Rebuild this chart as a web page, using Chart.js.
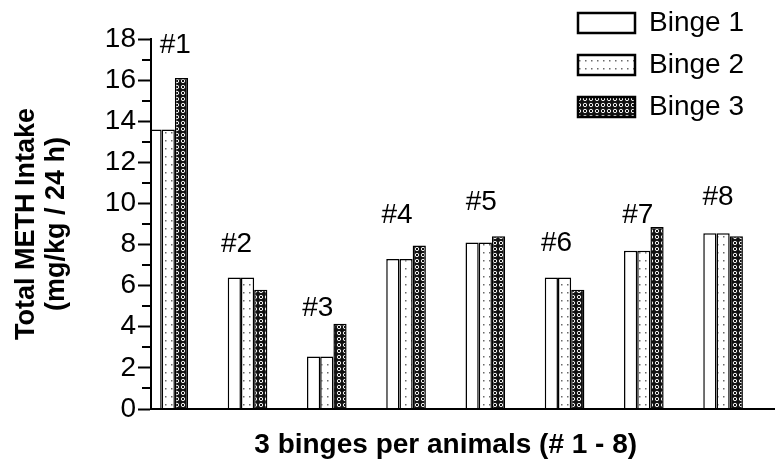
<!DOCTYPE html>
<html>
<head>
<meta charset="utf-8">
<script src="https://cdn.jsdelivr.net/npm/chart.js@4/dist/chart.umd.min.js"></script>
<style>
  html, body { margin: 0; padding: 0; background: #fff; }
  canvas { display: block; }
</style>
</head>
<body>
<canvas id="c" width="775" height="472"></canvas>
<script>
// ---- data ----
const animals = ['#1', '#2', '#3', '#4', '#5', '#6', '#7', '#8'];
const binge1 = [13.6, 6.4, 2.55, 7.3, 8.1, 6.4, 7.7, 8.55];
const binge2 = [13.6, 6.4, 2.55, 7.3, 8.1, 6.4, 7.7, 8.55];
const binge3 = [16.1, 5.8, 4.15, 7.95, 8.4, 5.8, 8.85, 8.4];
const seriesNames = ['Binge 1', 'Binge 2', 'Binge 3'];
const yTicks = [0, 2, 4, 6, 8, 10, 12, 14, 16, 18];
const yTitle = ['Total METH Intake', '(mg/kg / 24 h)'];
const xTitle = '3 binges per animals (# 1 - 8)';

// ---- styling ----
const FONT = '"Liberation Sans", Arial, Helvetica, sans-serif';
const INK = '#000';
// horizontal nudge and lift (px) of each animal tag above its tallest bar
const tagNudge = [7, -11, -9, -9, -4, -8, -6, -5];
const tagLift = [25, 25, 8, 23, 26, 26, 4, 28];

const canvas = document.getElementById('c');
const ctx0 = canvas.getContext('2d');

function makePattern(w, h, paint) {
  const t = document.createElement('canvas');
  t.width = w; t.height = h;
  paint(t.getContext('2d'), w, h);
  return ctx0.createPattern(t, 'repeat');
}
// white fill with sparse grey dots
const dotted = makePattern(6, 8, (g, w, h) => {
  g.fillStyle = '#fff'; g.fillRect(0, 0, w, h);
  g.fillStyle = '#6a6a6a'; g.fillRect(3, 4, 1.5, 1.5);
});
// dense dark fill with small white rings
const rings = makePattern(6, 6, (g, w, h) => {
  g.fillStyle = '#111'; g.fillRect(0, 0, w, h);
  g.strokeStyle = '#f4f4f4'; g.lineWidth = 1.0;
  g.beginPath(); g.arc(3, 3, 1.7, 0, Math.PI * 2); g.stroke();
});
const fills = ['#ffffff', dotted, rings];

const toPoints = arr => arr.map((v, i) => ({ x: i + 1, y: v }));

// short ticks at the odd values between labelled ticks
const minorTicks = {
  id: 'minorTicks',
  afterDraw(chart) {
    const { ctx, scales: { y }, chartArea } = chart;
    ctx.save();
    ctx.strokeStyle = INK; ctx.lineWidth = 2;
    for (let v = 1; v < 18; v += 2) {
      const py = Math.round(y.getPixelForValue(v));
      ctx.beginPath();
      ctx.moveTo(chartArea.left - 9, py);
      ctx.lineTo(chartArea.left, py);
      ctx.stroke();
    }
    ctx.restore();
  }
};

// "#n" tag over each group of bars
const animalTags = {
  id: 'animalTags',
  afterDatasetsDraw(chart) {
    const { ctx, scales: { x, y } } = chart;
    ctx.save();
    ctx.font = '28px ' + FONT;
    ctx.fillStyle = INK;
    ctx.textAlign = 'center';
    ctx.textBaseline = 'alphabetic';
    animals.forEach((t, i) => {
      const top = Math.max(binge1[i], binge2[i], binge3[i]);
      ctx.fillText(t, x.getPixelForValue(i + 1) + tagNudge[i], y.getPixelForValue(top) - tagLift[i]);
    });
    ctx.restore();
  }
};

// x-axis title centred under the groups
const groupTitle = {
  id: 'groupTitle',
  afterDraw(chart) {
    const { ctx, scales: { x } } = chart;
    const cx = (x.getPixelForValue(1) + x.getPixelForValue(animals.length)) / 2;
    ctx.save();
    ctx.font = 'bold 28px ' + FONT;
    ctx.fillStyle = INK;
    ctx.textAlign = 'center';
    ctx.textBaseline = 'alphabetic';
    ctx.fillText(xTitle, cx, 453);
    ctx.restore();
  }
};

// place the legend in the top-right corner of the plot
const legendCorner = {
  id: 'legendCorner',
  afterLayout(chart) {
    const lg = chart.legend;
    if (!lg) return;
    lg.left = 564; lg.top = -5;
    lg.width = 211; lg.height = 200;
    lg.right = lg.left + lg.width; lg.bottom = lg.top + lg.height;
  }
};

new Chart(canvas, {
  type: 'bar',
  data: {
    datasets: [binge1, binge2, binge3].map((arr, k) => ({
      label: seriesNames[k],
      data: toPoints(arr),
      backgroundColor: fills[k],
      borderColor: INK,
      borderWidth: 1.5,
      categoryPercentage: 0.5,
      barPercentage: 1.0
    }))
  },
  options: {
    responsive: false,
    animation: false,
    layout: { padding: { left: 0, right: 0, top: 39, bottom: 0 } },
    scales: {
      x: {
        type: 'linear',
        offset: false,
        min: 0.782,
        max: 8.655,
        ticks: { display: false },
        grid: { display: false, offset: false },
        border: { display: true, color: INK, width: 2, z: 1 },
        afterFit(s) { s.height = 63; }
      },
      y: {
        min: 0,
        max: 18,
        afterBuildTicks(s) { s.ticks = yTicks.map(v => ({ value: v })); },
        ticks: {
          color: INK,
          padding: 2,
          font: { family: FONT, size: 28 }
        },
        grid: {
          drawOnChartArea: false,
          drawTicks: true,
          tickLength: 13,
          tickColor: INK,
          tickWidth: 2,
          color: INK
        },
        border: { display: true, color: INK, width: 2, z: 1 },
        title: {
          display: true,
          text: yTitle,
          color: INK,
          font: { family: FONT, size: 27, weight: 'bold', lineHeight: 1.1 },
          padding: { top: 12, bottom: 0 }
        },
        afterFit(s) { s.width = 151; }
      }
    },
    plugins: {
      tooltip: { enabled: false },
      legend: {
        position: 'chartArea',
        align: 'start',
        labels: {
          color: INK,
          font: { family: FONT, size: 28 },
          boxWidth: 57,
          boxHeight: 20,
          padding: 14,
          generateLabels(chart) {
            return Chart.defaults.plugins.legend.labels.generateLabels(chart)
              .map(it => Object.assign(it, { lineWidth: 2.5, strokeStyle: INK }));
          }
        }
      }
    }
  },
  plugins: [legendCorner, minorTicks, animalTags, groupTitle]
});
</script>
</body>
</html>
